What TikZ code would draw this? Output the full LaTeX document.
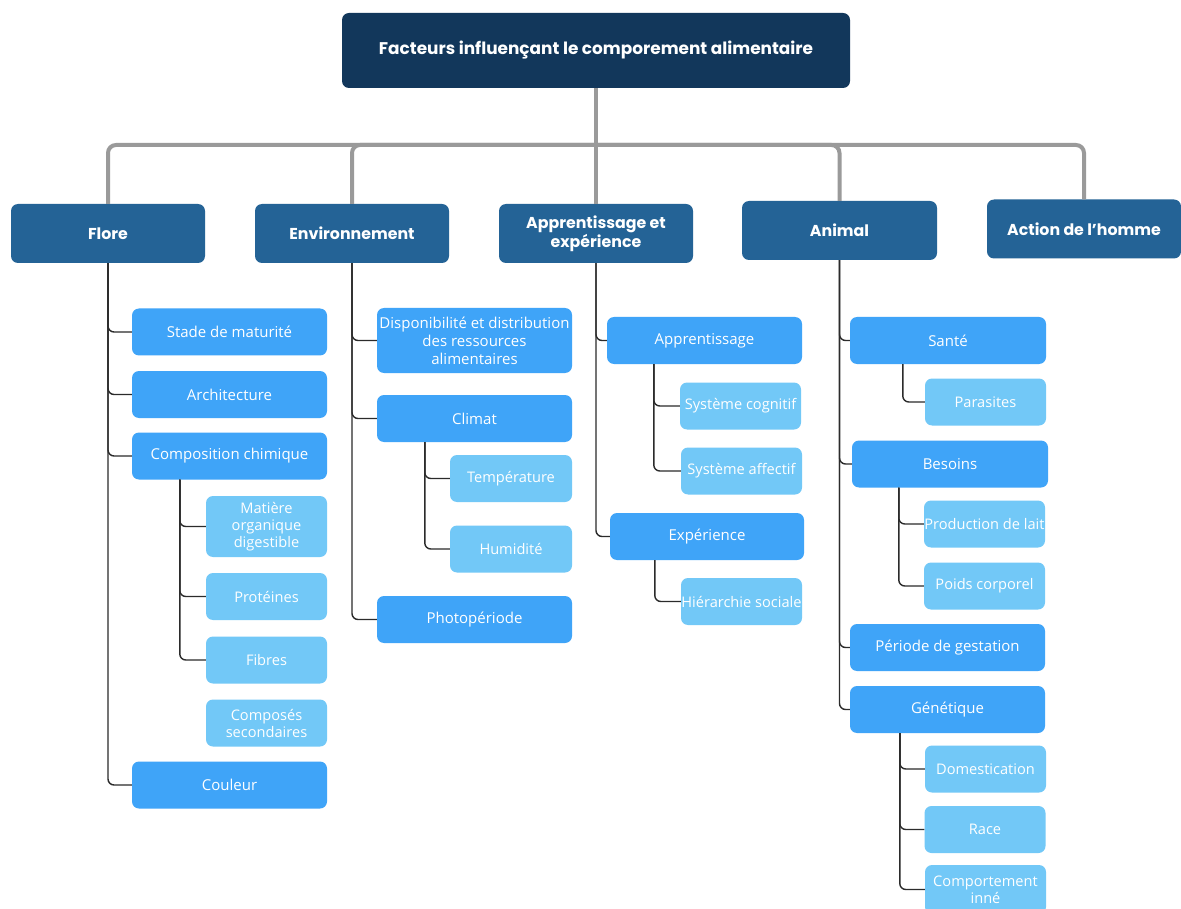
\documentclass[tikz,border=0pt]{standalone}
\usepackage{fontspec}
\setmainfont{Open Sans}
\newfontfamily\headfont{Poppins}
\definecolor{navy}{HTML}{12375B}
\definecolor{headblue}{HTML}{246396}
\definecolor{midblue}{HTML}{3FA4F8}
\definecolor{lightblue}{HTML}{72C8F7}
\definecolor{busgray}{HTML}{9A9A9A}
\definecolor{linkdark}{HTML}{2B2B2B}
\begin{document}
\begin{tikzpicture}[x=1pt,y=-1pt,
  box/.style={rounded corners=7pt, text=white, inner sep=0pt, align=center},
  titlebox/.style={box, fill=navy, minimum width=508pt, minimum height=75pt,
    font=\headfont\bfseries\fontsize{16.9}{20}\selectfont},
  headbox/.style={box, fill=headblue, minimum width=194pt, minimum height=59pt,
    font=\headfont\bfseries\fontsize{15.8}{19}\selectfont},
  subbox/.style={box, fill=midblue, minimum width=195pt, minimum height=47pt,
    font=\fontsize{15}{18}\selectfont},
  leafbox/.style={box, fill=lightblue, minimum width=121pt, minimum height=47pt,
    font=\fontsize{14.6}{17}\selectfont},
  bus/.style={draw=busgray, line width=4pt, rounded corners=8pt},
  link/.style={draw=linkdark, line width=1.4pt, rounded corners=6pt}]
\useasboundingbox[fill=white] (0,0) rectangle (1181,909);

% root
\node[titlebox] (root) at (596,50.5) {Facteurs influençant le comporement alimentaire};
\coordinate (hub) at (596,145);

% main factors
\node[headbox] (flore) at (108,233.5) {Flore};
\node[headbox] (env)   at (352,233.5) {Environnement};
\node[headbox] (app)   at (596,233.5) {Apprentissage et\\expérience};
\node[headbox, minimum width=195pt] (ani) at (839.5,230.5) {Animal};
\node[headbox] (hom)   at (1084,229) {Action de l’homme};

\draw[bus] (root.south) -- (hub);
\foreach \n in {flore,env,app,ani,hom}
  \draw[bus] (\n.north) |- (hub);

% Flore
\node[subbox] (mat)  at (229.5,332) {Stade de maturité};
\node[subbox] (arch) at (229.5,394.5) {Architecture};
\node[subbox] (comp) at (229.5,456) {Composition chimique};
\node[subbox] (coul) at (229.5,785) {Couleur};
\node[leafbox, minimum height=61pt] (mod) at (266.5,526.5) {Matière\\organique\\digestible};
\node[leafbox] (prot) at (266.5,596.5) {Protéines};
\node[leafbox] (fib)  at (266.5,660) {Fibres};
\node[leafbox] (csec) at (266.5,723) {Composés\\secondaires};
\foreach \n in {mat,arch,comp,coul}
  \draw[link] (flore.south) |- (\n.west);
\foreach \n in {mod,prot,fib}
  \draw[link] ([xshift=48pt]comp.south west) |- (\n.west);

% Environnement
\node[subbox, minimum height=65pt] (disp) at (474.5,340.5) {Disponibilité et distribution\\des ressources\\alimentaires};
\node[subbox] (clim)  at (474.5,418.5) {Climat};
\node[subbox] (photo) at (474.5,619.5) {Photopériode};
\node[leafbox, minimum width=122pt] (temp) at (511,478.5) {Température};
\node[leafbox, minimum width=122pt] (hum)  at (511,549) {Humidité};
\foreach \n in {disp,clim,photo}
  \draw[link] (env.south) |- (\n.west);
\foreach \n in {temp,hum}
  \draw[link] ([xshift=48pt]clim.south west) |- (\n.west);

% Apprentissage et expérience
\node[subbox] (appr) at (704.5,340.5) {Apprentissage};
\node[subbox, minimum width=194pt] (exp) at (707,536.5) {Expérience};
\node[leafbox] (cog) at (740.5,406) {Système cognitif};
\node[leafbox] (aff) at (741.5,471) {Système affectif};
\node[leafbox] (hie) at (741.5,601.5) {Hiérarchie sociale};
\foreach \n in {appr,exp}
  \draw[link] (app.south) |- (\n.west);
\foreach \n in {cog,aff}
  \draw[link] ([xshift=47pt]appr.south west) |- (\n.west);
\draw[link] ([xshift=45pt]exp.south west) |- (hie.west);

% Animal
\node[subbox, minimum width=196pt] (sante) at (948,340.5) {Santé};
\node[subbox, minimum width=196pt] (bes)   at (950,464) {Besoins};
\node[subbox] (gest) at (947.5,647.5) {Période de gestation};
\node[subbox] (gen)  at (947.5,709.5) {Génétique};
\node[leafbox] (par)  at (985.5,402) {Parasites};
\node[leafbox] (lait) at (984.5,524) {Production de lait};
\node[leafbox] (poids) at (984.5,586) {Poids corporel};
\node[leafbox] (dom)  at (985.5,769) {Domestication};
\node[leafbox] (race) at (985,829.5) {Race};
\node[leafbox, minimum height=49pt] (inne) at (985.5,889.5) {Comportement\\inné};
\foreach \n in {sante,bes,gest,gen}
  \draw[link] (ani.south) |- (\n.west);
\draw[link] ([xshift=53pt]sante.south west) |- (par.west);
\foreach \n in {lait,poids}
  \draw[link] ([xshift=47pt]bes.south west) |- (\n.west);
\foreach \n in {dom,race,inne}
  \draw[link] ([xshift=50pt]gen.south west) |- (\n.west);
\end{tikzpicture}
\end{document}
